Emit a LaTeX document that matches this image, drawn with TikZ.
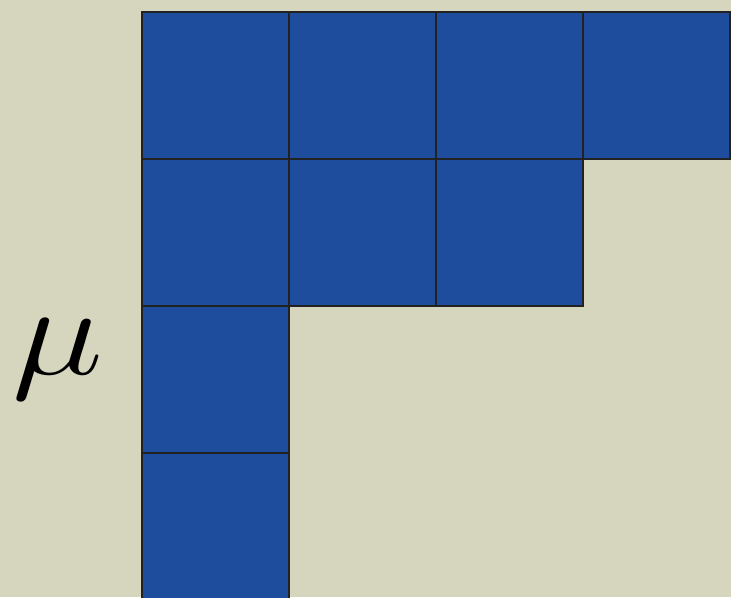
\documentclass[tikz,border=0pt]{standalone}
\definecolor{YDblue}{HTML}{1E4D9E}
\definecolor{YDpaper}{HTML}{D6D6BE}
\definecolor{YDline}{HTML}{222222}
\usetikzlibrary{positioning}

\begin{document}
\begin{tikzpicture}[x=1cm, y=1cm,
      cell/.style={draw=YDline, fill=YDblue, line width=0.55pt,
         minimum size=1cm, inner sep=0pt, outer sep=0pt}]
            % Background and frame
            \fill[YDpaper] (-0.966,-3.98) rectangle (4.007,0.082);
            \useasboundingbox (-0.966,-3.98) rectangle (4.007,0.082);
            \begin{scope}
            \clip (-0.966,-3.98) rectangle (4.007,0.082);
            % Young diagram, rows 4,3,1,1
            \foreach \r/\len in {1/4, 2/3, 3/1, 4/1} {
               \foreach \c in {1,...,\len} {
                  \node[cell] (c\r\c) at (\c-0.5, -\r+0.5) {};
               }
            }
            \end{scope}
            % Label
            \node[anchor=base, inner sep=0pt, font=\fontsize{27.5}{32}\selectfont]
               (mu) at (-0.571,-2.463) {\scalebox{1.2}[1]{$\mu$}};
         \end{tikzpicture}
\end{document}
